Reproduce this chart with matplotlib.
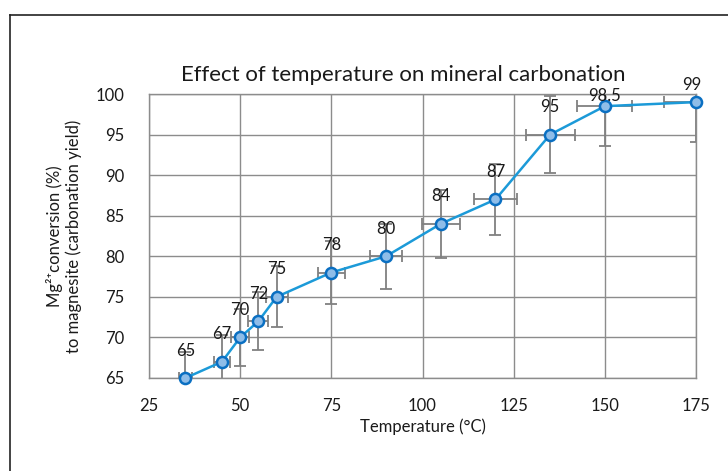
import numpy as np
import matplotlib.pyplot as plt
from matplotlib.lines import Line2D

plt.rcParams['font.family'] = ['Lato', 'DejaVu Sans']

# values
temperature = [35, 45, 50, 55, 60, 75, 90, 105, 120, 135, 150, 175]
conversion = [65, 67, 70, 72, 75, 78, 80, 84, 87, 95, 98.5, 99]
temp_err = [1.75, 2.25, 2.5, 2.75, 3.0, 3.75, 4.5, 5.25, 6.0, 6.75, 7.5, 8.75]
conv_err = [3.25, 3.35, 3.5, 3.6, 3.75, 3.9, 4.0, 4.2, 4.35, 4.75, 4.9, 4.95]
point_labels = ["65", "67", "70", "72", "75", "78", "80", "84", "87", "95", "98.5", "99"]

x_ticks = [25, 50, 75, 100, 125, 150, 175]
y_ticks = [65, 70, 75, 80, 85, 90, 95, 100]

W, H = 728, 471
fig = plt.figure(figsize=(W / 100, H / 100), dpi=100)
ax = fig.add_axes([149 / W, 1 - 378 / H, (696 - 149) / W, (378 - 94) / H])

grid_col = "#8c8c8c"
txt_col = "#1a1a1a"
ax.errorbar(temperature, conversion, xerr=temp_err, yerr=conv_err, fmt="none",
            ecolor="#808080", elinewidth=1.3, capsize=4, capthick=1.3, zorder=2)
ax.plot(temperature, conversion, color="#1c9ad8", lw=1.8, zorder=3, clip_on=False)
ax.plot(temperature, conversion, ls="none", marker="o", ms=8, mfc="#8fbde8",
        mec="#0a6fc2", mew=1.8, zorder=4, clip_on=False)

# labels sit ~27 px above the points, the last two are pushed down by the plot top
label_nudge = {"98.5": (0, 7.5), "99": (-3, 12)}
for x, y, s in zip(temperature, conversion, point_labels):
    dx, dy = label_nudge.get(s, (0, 19.8))
    ax.annotate(s, (x, y), xytext=(dx, dy), textcoords="offset points",
                ha="center", va="center", fontsize=12, color=txt_col, zorder=5)

ax.set_xlim(25, 175)
ax.set_ylim(65, 100)
ax.set_xticks(x_ticks)
ax.set_yticks(y_ticks)
ax.grid(True, color=grid_col, lw=1)
ax.set_axisbelow(True)
ax.tick_params(length=0, labelsize=12, colors=txt_col)
ax.tick_params(axis="x", pad=14.5)
ax.tick_params(axis="y", pad=18)
for sp in ax.spines.values():
    sp.set_color(grid_col)
    sp.set_linewidth(1)

ax.set_xlabel("Temperature (°C)", fontsize=12, color=txt_col, labelpad=3)
fig.text(64 / W, 1 - 236 / H,
         "Mg²⁺conversion (%)\nto magnesite (carbonation yield)",
         rotation=90, ha="center", va="center", multialignment="center",
         fontsize=12, color=txt_col, linespacing=1.25)

fig.text(403 / W, 1 - 81 / H, "Effect of temperature on mineral carbonation",
         ha="center", va="baseline", fontsize=16, color=txt_col)

# outer chart frame (only top and left edges are visible)
fig.add_artist(Line2D([10 / W, 1], [1 - 15 / H, 1 - 15 / H], color="#222222", lw=1.2))
fig.add_artist(Line2D([10 / W, 10 / W], [0, 1 - 15 / H], color="#222222", lw=1.2))

fig.savefig("out.png", dpi=100)
